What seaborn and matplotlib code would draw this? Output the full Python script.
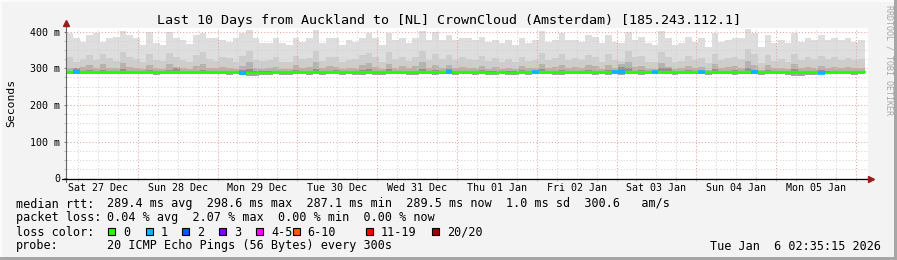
import numpy as np
import pandas as pd
import matplotlib
matplotlib.use("Agg")
import matplotlib.pyplot as plt
from matplotlib.lines import Line2D
from matplotlib.patches import Rectangle
from matplotlib.ticker import FixedLocator
import seaborn as sns

# ---------------- data (ms), 120 blocks of 2 h over 10 days ----------------
TOP = [396, 382, 373, 390, 396, 373, 382, 386, 401, 391, 382, 364, 400, 368, 364, 400, 384, 377, 365, 391, 396, 382, 382, 377, 373, 382, 396, 405, 382, 368,
       368, 382, 368, 364, 383, 373, 382, 405, 368, 383, 382, 364, 377, 373, 383, 396, 382, 364, 396, 377, 382, 368, 382, 402, 377, 400, 377, 391, 377, 382,
       382, 377, 386, 373, 377, 368, 377, 364, 382, 368, 377, 401, 373, 377, 396, 377, 377, 373, 391, 386, 368, 391, 373, 368, 400, 377, 386, 368, 364, 401,
       382, 364, 368, 386, 373, 382, 359, 396, 373, 377, 382, 382, 408, 396, 359, 391, 368, 377, 368, 396, 373, 382, 377, 391, 377, 382, 377, 382, 373, 377]
MID = [330, 318, 325, 335, 322, 340, 328, 320, 345, 332, 326, 318, 338, 324, 320, 342, 330, 322, 316, 336, 344, 326, 320, 330, 328, 318, 334, 348, 324, 320,
       322, 330, 318, 316, 334, 326, 328, 346, 320, 332, 330, 318, 324, 326, 336, 342, 330, 318, 344, 326, 330, 320, 332, 348, 324, 340, 326, 336, 322, 330,
       326, 322, 334, 320, 328, 318, 326, 316, 330, 320, 324, 342, 322, 328, 340, 324, 328, 322, 336, 332, 318, 338, 322, 320, 346, 330, 334, 318, 316, 344,
       330, 316, 320, 334, 322, 328, 314, 340, 324, 328, 330, 326, 352, 338, 314, 336, 320, 326, 318, 340, 324, 330, 326, 334, 326, 330, 324, 328, 322, 326]
DARK = [302, 298, 304, 308, 300, 312, 302, 300, 314, 304, 300, 298, 310, 302, 299, 312, 304, 300, 298, 306, 312, 302, 300, 304, 302, 298, 306, 316, 300, 298,
        300, 304, 298, 297, 308, 302, 304, 316, 300, 306, 304, 298, 302, 302, 308, 314, 304, 298, 312, 302, 306, 300, 306, 316, 300, 310, 302, 308, 300, 304,
        302, 300, 306, 298, 304, 298, 302, 297, 306, 300, 300, 312, 300, 304, 310, 300, 304, 300, 308, 306, 298, 310, 300, 312, 316, 304, 306, 298, 297, 314,
        304, 297, 300, 306, 300, 304, 296, 312, 300, 304, 306, 302, 320, 310, 296, 308, 300, 302, 298, 312, 300, 304, 302, 306, 302, 304, 300, 304, 300, 302]
NEAR = [294, 300, 293, 295, 292, 296, 293, 294, 297, 293, 292, 293, 295, 294, 293, 296, 300, 293, 292, 294, 296, 293, 292, 294, 293, 292, 295, 298, 293, 292,
        293, 294, 292, 292, 296, 293, 294, 298, 292, 294, 295, 292, 293, 293, 296, 298, 294, 292, 297, 293, 294, 292, 294, 298, 293, 296, 294, 297, 293, 294,
        293, 292, 295, 292, 294, 292, 293, 292, 295, 293, 292, 297, 292, 294, 296, 292, 294, 293, 296, 294, 292, 296, 293, 304, 302, 294, 295, 292, 292, 300,
        300, 292, 293, 296, 293, 294, 292, 298, 293, 294, 296, 294, 300, 296, 292, 296, 293, 294, 292, 297, 293, 294, 293, 295, 293, 294, 293, 294, 293, 294]
MEDIAN = [289, 289, 289, 289, 289, 289, 289, 289, 290, 289, 289, 289, 289, 289, 289, 289, 289, 289, 289, 289, 289, 289, 289, 289, 290, 289, 288, 288, 288, 288,
          288, 289, 289, 289, 289, 289, 289, 289, 289, 289, 289, 289, 289, 289, 289, 289, 289, 289, 289, 289, 289, 289, 289, 289, 289, 289, 289, 289, 289, 289,
          289, 289, 289, 288, 288, 289, 288, 288, 289, 289, 289, 289, 289, 289, 289, 289, 289, 289, 289, 289, 289, 289, 289, 289, 289, 289, 289, 289, 289, 289,
          289, 289, 289, 289, 289, 289, 289, 289, 289, 289, 289, 289, 289, 289, 289, 289, 289, 289, 289, 289, 289, 289, 289, 288, 288, 289, 290, 289, 289, 289]
LOW = [284, 285, 284, 284, 285, 284, 284, 285, 284, 284, 285, 284, 284, 283, 284, 285, 284, 284, 285, 284, 284, 285, 284, 284, 283, 284, 282, 280, 280, 281,
       283, 284, 282, 282, 284, 284, 283, 284, 283, 284, 284, 283, 284, 282, 282, 284, 283, 282, 284, 284, 284, 283, 282, 284, 284, 283, 284, 284, 283, 284,
       284, 283, 284, 281, 282, 284, 282, 281, 284, 283, 284, 284, 284, 283, 283, 284, 284, 284, 284, 283, 284, 283, 284, 283, 284, 284, 283, 284, 284, 284,
       284, 283, 284, 284, 284, 284, 283, 284, 284, 284, 283, 284, 284, 284, 283, 284, 284, 284, 282, 280, 279, 281, 283, 284, 284, 284, 284, 284, 283, 284]
LOSS_BLOCKS = [1, 26, 57, 70, 82, 83, 88, 95, 103, 113]
LOSS_LEVEL = [1, 1, 1, 1, 1, 1, 1, 1, 1, 1]

DAY_LABELS = ["Sat 27 Dec", "Sun 28 Dec", "Mon 29 Dec", "Tue 30 Dec", "Wed 31 Dec",
              "Thu 01 Jan", "Fri 02 Jan", "Sat 03 Jan", "Sun 04 Jan", "Mon 05 Jan"]
Y_TICKS = [0, 100, 200, 300, 400]
Y_LABELS = ["0", "100 m", "200 m", "300 m", "400 m"]
LOSS_NAMES = ["0", "1", "2", "3", "4-5", "6-10", "11-19", "20/20"]
LOSS_COLORS = ["#26ff00", "#00b8ff", "#0059ff", "#7e00ff", "#ff00ff", "#ff5500", "#ff0000", "#a10000"]

TITLE = "Last 10 Days from Auckland to [NL] CrownCloud (Amsterdam) [185.243.112.1]"
RTT_TEXT = "289.4 ms avg  298.6 ms max  287.1 ms min  289.5 ms now  1.0 ms sd  300.6   am/s"
LOSS_TEXT = "0.04 % avg  2.07 % max  0.00 % min  0.00 % now"
PROBE_TEXT = "20 ICMP Echo Pings (56 Bytes) every 300s"
DATE_TEXT = "Tue Jan  6 02:35:15 2026"

# ---------------- figure ----------------
sns.set_theme(style="white")
plt.rcParams["font.family"] = ["DejaVu Sans Mono"]
plt.rcParams["text.color"] = "black"

W, H = 897, 260
BG = "#f3f3f3"
fig = plt.figure(figsize=(W / 100, H / 100), dpi=100, facecolor=BG)


def fx(x):
    return x / W


def fy(y):
    return 1 - y / H


ax_left, ax_right, ax_top, ax_bot = 66.5, 868, 28, 178.3
ax = fig.add_axes([fx(ax_left), fy(ax_bot), (ax_right - ax_left) / W, (ax_bot - ax_top) / H])
ax.set_facecolor("white")
for s in ax.spines.values():
    s.set_visible(False)

N = len(TOP)
START = (2 + 35 / 60) / 24       # Dec 27 02:35, in days from Dec 27 00:00
SPAN = 10.0
edges = START + np.arange(N + 1) * SPAN / N


def ext(a):
    a = np.asarray(a, float)
    return np.append(a, a[-1])


# smoke layers
layers = [
    (MID, TOP, "#dedede"),
    (DARK, MID, "#cdcdcd"),
    (NEAR, DARK, "#b3b3b3"),
    (MEDIAN, NEAR, "#8e8e8e"),
    (LOW, MEDIAN, "#a2a2a2"),
]
for lo, hi, c in layers:
    ax.fill_between(edges, ext(lo), ext(hi), step="post", color=c, lw=0, zorder=2, antialiased=False)

# grid (drawn on top of smoke)
dot = (0, (1, 2))
for h in np.arange(25, 401, 25):
    c = "#e6a3a3" if h % 100 == 0 else "#d2d2d2"
    ax.axhline(h, color=c, lw=0.75, ls=dot, zorder=4)
for d in np.arange(0.25, 10.2, 0.25):
    if d < START:
        continue
    c = "#e6a3a3" if abs(d - round(d)) < 1e-9 else "#d2d2d2"
    ax.axvline(d, color=c, lw=0.75, ls=dot, zorder=4)

# median line (seaborn)
df = pd.DataFrame({"t": edges, "rtt": ext(MEDIAN)})
sns.lineplot(data=df, x="t", y="rtt", ax=ax, color=LOSS_COLORS[0], lw=1.7,
             drawstyle="steps-post", estimator=None, zorder=6)
for b, lvl in zip(LOSS_BLOCKS, LOSS_LEVEL):
    ax.hlines(MEDIAN[b], edges[b], edges[b + 1], colors=LOSS_COLORS[lvl], lw=2.6, zorder=7)

ax.set_xlim(START, START + (ax_right - ax_left) / 79.8)
ax.set_ylim(0, 410)
ax.set_xlabel("")
ax.set_ylabel("")

ax.set_yticks(Y_TICKS, Y_LABELS)
ax.yaxis.set_minor_locator(FixedLocator(np.arange(25, 400, 25)))
ax.tick_params(axis="y", which="major", direction="out", length=2.3, width=0.7, color="#777777",
               pad=2.3, labelsize=7.2, left=True)
ax.tick_params(axis="y", which="minor", direction="out", length=2.3, width=0.7, color="#bbbbbb", left=True)
ax.set_xticks(np.arange(len(DAY_LABELS)) + 0.5, DAY_LABELS)
ax.xaxis.set_minor_locator(FixedLocator([d for d in np.arange(0.25, 10.2, 0.25) if d > START]))
ax.tick_params(axis="x", which="major", length=0, pad=3.2, labelsize=7.2, bottom=True)
ax.tick_params(axis="x", which="minor", direction="out", length=1.8, width=0.7, color="#bbbbbb", bottom=True)
for lab in ax.get_xticklabels() + ax.get_yticklabels():
    lab.set_color("black")

# axis lines and arrows
fig.add_artist(Line2D([fx(66)] * 2, [fy(182), fy(24)], color="#666666", lw=0.8))
fig.add_artist(Line2D([fx(62), fx(869)], [fy(178.5)] * 2, color="black", lw=0.9))
fig.add_artist(Line2D([fx(66)], [fy(23)], marker="^", markersize=4.2, color="#9b1c1c", lw=0))
fig.add_artist(Line2D([fx(871)], [fy(178.5)], marker=">", markersize=4.2, color="#9b1c1c", lw=0))

# frame shading
fig.add_artist(Rectangle((0, fy(2)), 1, 2 / H, color="#fbfbfb", lw=0))
fig.add_artist(Rectangle((0, 0), 2 / W, 1, color="#fbfbfb", lw=0))
fig.add_artist(Rectangle((0, 0), 1, 3 / H, color="#a6a6a6", lw=0))
fig.add_artist(Rectangle((fx(894), 0), 3 / W, 1, color="#a6a6a6", lw=0))

# texts
fig.text(fx(448.5), fy(24), TITLE, ha="center", va="baseline", fontsize=9.6)
fig.text(fx(10.8), fy(103), "Seconds", rotation=90, ha="center", va="center", fontsize=8.2)
fig.text(fx(888.5), fy(60), "RRDTOOL / TOBI OETIKER", rotation=270, ha="center", va="center",
         fontsize=6.0, color="#a8a8a8")

LF = 8.5
fig.text(fx(15.5), fy(207.5), "median rtt:", fontsize=LF, va="baseline")
fig.text(fx(106.7), fy(207.5), RTT_TEXT, fontsize=LF, va="baseline")
fig.text(fx(15.5), fy(221.5), "packet loss:", fontsize=LF, va="baseline")
fig.text(fx(106.7), fy(221.5), LOSS_TEXT, fontsize=LF, va="baseline")
fig.text(fx(15.5), fy(235.5), "loss color:", fontsize=LF, va="baseline")
box_x = [108.3, 145.7, 182.3, 219, 256, 292.7, 366, 432]
for bx, name, col in zip(box_x, LOSS_NAMES, LOSS_COLORS):
    fig.add_artist(Rectangle((fx(bx), fy(235)), 7 / W, 7 / H, facecolor=col, edgecolor="black", lw=0.8))
    fig.text(fx(bx + 15), fy(235.5), name, fontsize=LF, va="baseline")
fig.text(fx(15.5), fy(249.5), "probe:", fontsize=LF, va="baseline")
fig.text(fx(106.7), fy(249.5), PROBE_TEXT, fontsize=LF, va="baseline")
fig.text(fx(881), fy(249.5), DATE_TEXT, fontsize=LF, va="baseline", ha="right")

fig.savefig("out.png", dpi=100, facecolor=fig.get_facecolor())
